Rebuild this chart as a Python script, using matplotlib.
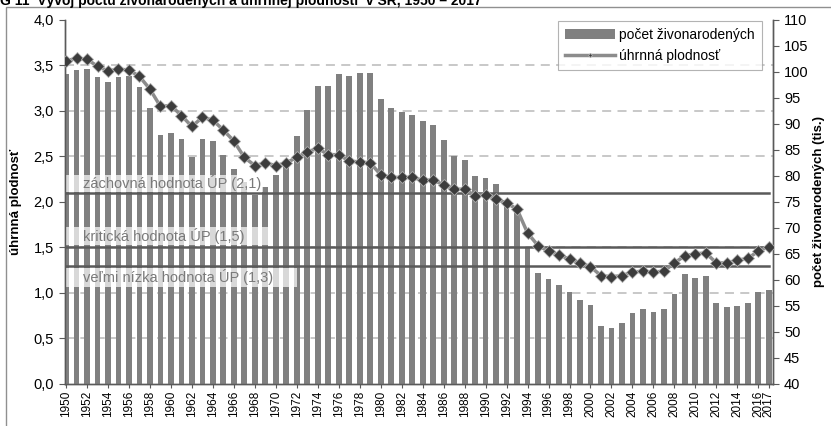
import numpy as np
import matplotlib
matplotlib.use('Agg')
from matplotlib import pyplot as plt
from matplotlib.patches import Rectangle

plt.rcParams['font.family'] = ['Liberation Sans', 'DejaVu Sans']

# roky 1950 - 2017
roky = list(range(1950, 2018))

# pocet zivonarodenych (tis.)
narodeni = [99.6, 100.4, 100.6, 99.0, 98.1, 99.1, 99.3, 97.1, 93.1, 87.8,
            88.2, 87.2, 83.7, 87.1, 86.7, 84.0, 81.3, 78.9, 76.3, 77.8,
            80.2, 82.2, 87.6, 92.7, 97.4, 97.4, 99.6, 99.3, 99.9, 99.9,
            94.8, 93.0, 92.4, 91.7, 90.6, 89.9, 86.9, 83.8, 83.1, 80.0,
            79.7, 78.4, 74.6, 73.3, 66.4, 61.4, 60.1, 59.1, 57.6, 56.2,
            55.2, 51.1, 50.8, 51.7, 53.7, 54.4, 53.9, 54.4, 57.4, 61.2,
            60.4, 60.8, 55.5, 54.8, 55.0, 55.6, 57.6, 58.0]

# uhrnna plodnost
plodnost = [3.55, 3.58, 3.57, 3.49, 3.44, 3.46, 3.45, 3.38, 3.24, 3.05,
            3.06, 2.95, 2.83, 2.93, 2.90, 2.79, 2.67, 2.49, 2.40, 2.43,
            2.40, 2.43, 2.49, 2.55, 2.59, 2.52, 2.52, 2.45, 2.44, 2.43,
            2.30, 2.27, 2.27, 2.27, 2.24, 2.24, 2.19, 2.14, 2.14, 2.07,
            2.08, 2.03, 1.99, 1.92, 1.66, 1.52, 1.46, 1.42, 1.37, 1.33,
            1.29, 1.19, 1.18, 1.19, 1.23, 1.24, 1.23, 1.24, 1.33, 1.41,
            1.43, 1.44, 1.33, 1.33, 1.36, 1.38, 1.46, 1.51]

# hranicne hodnoty UP
hranice = [2.1, 1.5, 1.3]
hranice_popisy = ['záchovná hodnota ÚP (2,1)', 'kritická hodnota ÚP (1,5)', 'veľmi nízka hodnota ÚP (1,3)']

popisky_x = [str(r) for r in range(1950, 2017, 2)] + ['2017']
pozicie_x = [r - 1950 for r in range(1950, 2017, 2)] + [67]

x = np.arange(len(roky))
seda = '#808080'
tmava = '#5a5a5a'

fig = plt.figure(figsize=(8.31, 4.26), dpi=100)
ax = fig.add_axes([0.0782, 0.0986, 0.852, 0.8545])  # lava os - plodnost
ax2 = ax.twinx()  # prava os - narodeni
ax.set_zorder(ax2.get_zorder() + 1)
ax.patch.set_visible(False)

# stlpce na pravej osi (pod ciarou)
ax2.bar(x, narodeni, width=0.55, color=seda, zorder=3, label='počet živonarodených')
ax2.set_ylim(40, 110)
ax2.set_yticks(np.arange(40, 111, 5))
ax2.set_yticks(np.arange(0, 4.01, 0.5) * 17.5 + 40, minor=True)  # mriezka podla lavej osi
ax2.grid(which='minor', axis='y', color='#c4c4c4', ls=(0, (5, 3.5)), lw=1.3, zorder=0)
ax2.grid(which='major', axis='x', color='#dcdcdc', lw=0.8, zorder=0)
ax2.tick_params(axis='y', which='minor', length=0)
ax2.tick_params(axis='y', which='major', direction='out', length=4, color=tmava, labelsize=10.5, pad=4)
ax2.set_ylabel('počet živonarodených (tis.)', fontsize=9.5, fontweight='bold', labelpad=3)

# hranicne ciary a popisky
for h, txt, (top, bot, w) in zip(hranice, hranice_popisy,
                                  [(2.30, 2.11, 0.28), (1.725, 1.53, 0.294), (1.275, 1.066, 0.328)]):
    ax.plot([-0.1, 67], [h, h], color=tmava, lw=1.8, zorder=3)
    ax.add_patch(Rectangle((0, bot), w, top - bot, transform=ax.get_yaxis_transform(),
                           facecolor='white', alpha=0.7, edgecolor='none', zorder=2))
    ax.text(0.025, (top + bot) / 2, txt, transform=ax.get_yaxis_transform(), va='center', ha='left',
            fontsize=10.5, color='#7a7a7a', zorder=4)

# uhrnna plodnost - ciara
ax.plot(x, plodnost, color='#8c8c8c', lw=2.5, marker='D', markersize=6,
        markerfacecolor='#3c3c3c', markeredgecolor='#b0b0b0', markeredgewidth=0.6,
        zorder=5, label='úhrnná plodnosť')
ax.set_ylim(0, 4)
ax.set_yticks(np.arange(0, 4.01, 0.5))
ax.set_yticklabels([('%.1f' % v).replace('.', ',') for v in np.arange(0, 4.01, 0.5)])
ax.tick_params(axis='y', direction='out', length=4, color=tmava, labelsize=10.5, pad=4)
ax.set_ylabel('úhrnná plodnosť', fontsize=9.5, fontweight='bold', labelpad=8)

ax.set_xlim(-0.1, 67.4)
ax2.set_xlim(-0.1, 67.4)
ax.set_xticks(pozicie_x)
ax.set_xticklabels(popisky_x, rotation=90, fontsize=8.5)
ax.tick_params(axis='x', direction='out', length=3, color=tmava, pad=2)
ax2.set_xticks(pozicie_x)

for a in (ax, ax2):
    a.spines['top'].set_visible(False)
    for s in ('left', 'right', 'bottom'):
        a.spines[s].set_color(tmava)
        a.spines[s].set_linewidth(1.0)

# legenda
h1, l1 = ax2.get_legend_handles_labels()
h2, l2 = ax.get_legend_handles_labels()
leg = ax.legend(h1 + h2, l1 + l2, loc='upper right', bbox_to_anchor=(0.984, 0.997),
                fontsize=10, frameon=True, fancybox=False, edgecolor='#a0a0a0',
                markerscale=0.35, handlelength=3.6, handletextpad=0.3, borderpad=0.5,
                labelspacing=0.5, borderaxespad=0)
leg.get_frame().set_linewidth(0.8)

# ramcek grafu a orezany nadpis (v originali je nadpis zhora orezany)
fig.add_artist(Rectangle((6 / 831, -0.1), 1.2, 1.1 - 7 / 426, transform=fig.transFigure,
                         facecolor='none', edgecolor='#909090', lw=1))
fig.text(0.0, 1 - 5 / 426, 'G 11  Vývoj počtu živonarodených a úhrnnej plodnosti  v SR, 1950 – 2017',
         fontsize=10, fontweight='bold', ha='left', va='baseline')

fig.savefig('out.png', dpi=100)
